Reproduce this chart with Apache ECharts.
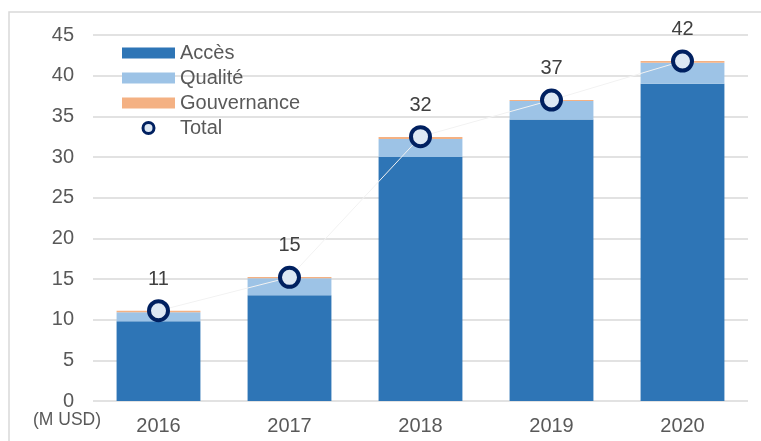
<!DOCTYPE html>
<html>
<head>
<meta charset="utf-8">
<script src="https://cdn.jsdelivr.net/npm/echarts@6/dist/echarts.min.js"></script>
<style>html,body{margin:0;padding:0;background:#fff}#c{width:761px;height:441px}</style>
</head>
<body>
<div id="c"></div>
<script>
var years = ['2016', '2017', '2018', '2019', '2020'];
var acces = [9.8, 13.0, 30.0, 34.6, 39.0];
var qualite = [1.1, 2.1, 2.2, 2.3, 2.6];
var gouvernance = [0.2, 0.15, 0.25, 0.1, 0.2];
var total = [11.1, 15.2, 32.5, 37.0, 41.8];
var totalLabels = ['11', '15', '32', '37', '42'];
var yTicks = [0, 5, 10, 15, 20, 25, 30, 35, 40, 45];

var FONT = 'Liberation Sans, Arial, sans-serif';
var TXT = '#595959';

var chart = echarts.init(document.getElementById('c'));
chart.setOption({
  animation: false,
  textStyle: { fontFamily: FONT },
  graphic: [
    { type: 'rect', shape: { x: 9, y: 12, width: 800, height: 500 },
      style: { fill: 'none', stroke: '#d9d9d9', lineWidth: 1.5 }, silent: true },
    { type: 'text', left: 33, top: 411,
      style: { text: '(M USD)', fill: TXT, font: '17.5px ' + FONT } }
  ],
  legend: {
    orient: 'vertical',
    left: 117, top: 38,
    itemWidth: 53, itemHeight: 11, itemGap: 5,
    textStyle: { color: TXT, fontSize: 20, fontFamily: FONT },
    data: [
      { name: 'Accès', icon: 'rect' },
      { name: 'Qualité', icon: 'rect' },
      { name: 'Gouvernance', icon: 'rect' },
      { name: 'Total', icon: 'circle', itemStyle: { color: '#dde8f4', borderColor: '#002060', borderWidth: 3 } }
    ]
  },
  grid: { left: 93, right: 13, top: 35, bottom: 40, containLabel: false },
  xAxis: {
    type: 'category', data: years,
    axisLine: { show: false }, axisTick: { show: false },
    axisLabel: { color: TXT, fontSize: 20, margin: 15, fontFamily: FONT }
  },
  yAxis: {
    type: 'value', min: 0, max: 45, interval: 5,
    axisLine: { show: false }, axisTick: { show: false },
    splitLine: { lineStyle: { color: '#d9d9d9', width: 1.5 } },
    axisLabel: {
      color: TXT, fontSize: 20, margin: 19, fontFamily: FONT,
      formatter: function (v) { return yTicks.indexOf(v) >= 0 ? String(v) : ''; }
    }
  },
  series: [
    { name: 'Accès', type: 'bar', stack: 's', data: acces, barWidth: '64%',
      itemStyle: { color: '#2E75B6' } },
    { name: 'Qualité', type: 'bar', stack: 's', data: qualite,
      itemStyle: { color: '#9DC3E6' } },
    { name: 'Gouvernance', type: 'bar', stack: 's', data: gouvernance,
      itemStyle: { color: '#F4B183' } },
    { name: 'Total', type: 'line', data: total, z: 5,
      symbol: 'circle', symbolSize: 19,
      lineStyle: { color: '#f2f2f2', width: 1 },
      itemStyle: { color: '#dde8f4', borderColor: '#002060', borderWidth: 4 },
      label: { show: true, position: 'top', distance: 10, color: '#404040', fontSize: 20,
        fontFamily: FONT,
        formatter: function (p) { return totalLabels[p.dataIndex]; } }
    }
  ]
});
</script>
</body>
</html>
